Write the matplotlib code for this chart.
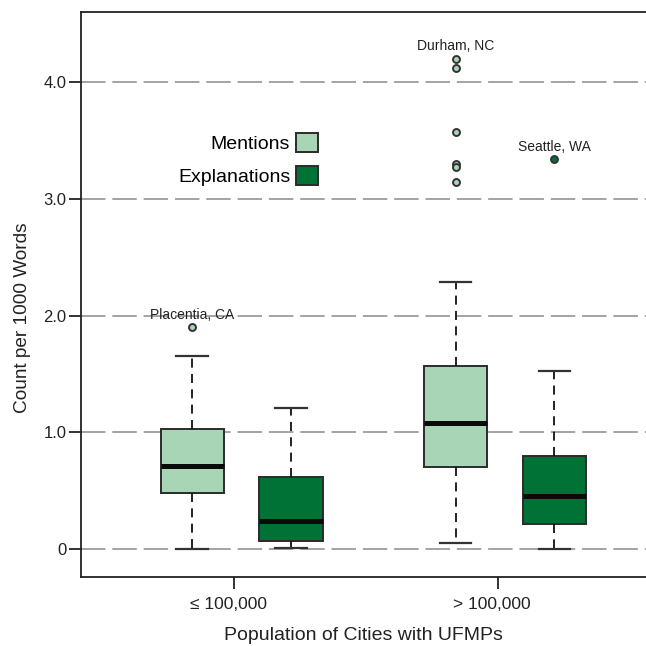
import numpy as np
import matplotlib
matplotlib.use("Agg")
import matplotlib.pyplot as plt
import matplotlib.transforms as mtransforms
from matplotlib.patches import Patch

plt.rcParams['font.family'] = ['Liberation Sans', 'DejaVu Sans']

# ---- data ----
groups = ["\u2264 100,000", "> 100,000"]
series = ["Mentions", "Explanations"]
colors = ["#a8d5b5", "#007236"]

# per series: one value per group
q1 = {"Mentions": [0.48, 0.70], "Explanations": [0.065, 0.216]}
med = {"Mentions": [0.71, 1.077], "Explanations": [0.24, 0.453]}
q3 = {"Mentions": [1.03, 1.567], "Explanations": [0.62, 0.797]}
whislo = {"Mentions": [0.0, 0.054], "Explanations": [0.01, 0.0]}
whishi = {"Mentions": [1.655, 2.285], "Explanations": [1.205, 1.527]}
fliers = {"Mentions": [[1.90], [4.20, 4.12, 3.575, 3.30, 3.27, 3.14]],
          "Explanations": [[], [3.34]]}

# labelled outliers: (series, group index, value, label)
labels = [("Mentions", 0, 1.90, "Placentia, CA"),
          ("Mentions", 1, 4.20, "Durham, NC"),
          ("Explanations", 1, 3.34, "Seattle, WA")]

yticks = [0, 1.0, 2.0, 3.0, 4.0]
ytick_labels = ["0", "1.0", "2.0", "3.0", "4.0"]

# ---- plot ----
W = 646
fig = plt.figure(figsize=(6.46, 6.46), dpi=100)
ax = fig.add_axes([81 / W, 69 / W, 1 - 81 / W, (577 - 12) / W])

offsets = [-0.16, 0.215]   # SPSS style clustering, not centred on tick
width = 0.24
edge = "#2b2b2b"

for k, s in enumerate(series):
    pos = np.arange(1, len(groups) + 1) + offsets[k]
    stats = []
    for i in range(len(groups)):
        stats.append(dict(med=med[s][i], q1=q1[s][i], q3=q3[s][i],
                          whislo=whislo[s][i], whishi=whishi[s][i],
                          fliers=fliers[s][i]))
    ax.bxp(stats, positions=pos, widths=width, patch_artist=True,
           showfliers=True, manage_ticks=False,
           boxprops=dict(facecolor=colors[k], edgecolor=edge, linewidth=1.4),
           medianprops=dict(color="#0a0a0a", linewidth=3.6, solid_capstyle="butt"),
           whiskerprops=dict(color="#111111", linewidth=1.3, linestyle=(0, (5, 3.5))),
           capprops=dict(color="#333333", linewidth=1.6),
           capwidths=width * 0.5,
           flierprops=dict(marker="o", markersize=5, markerfacecolor=colors[k],
                           markeredgecolor="#333333", markeredgewidth=1.4),
           zorder=3)

for s, gi, val, txt in labels:
    k = series.index(s)
    x = gi + 1 + offsets[k]
    ax.annotate(txt, (x, val), xytext=(0, 4), textcoords="offset points",
                ha="center", va="bottom", fontsize=10, color="#222222")

ax.set_xlim(0.418, 2.563)
ax.set_ylim(-0.24, 4.6)
ax.set_xticks([1, 2])
ax.set_xticklabels(groups, fontsize=12.5)
ax.set_yticks(yticks)
ax.set_yticklabels(ytick_labels, fontsize=12)
ax.tick_params(axis="x", length=8.6, width=1.3, pad=5.5, colors="#222222")
ax.tick_params(axis="y", length=8.6, width=1.3, pad=2, colors="#222222")

# x tick labels sit a little left of their ticks in the original
shift = mtransforms.ScaledTranslation(-6 / 100, 0, fig.dpi_scale_trans)
for lab in ax.get_xticklabels():
    lab.set_transform(lab.get_transform() + shift)

for y in yticks:
    ax.axhline(y, color="#8a8a8a", linewidth=1.1, linestyle=(0, (16, 4.5)), zorder=1)

ax.spines["right"].set_visible(False)
for sp in ["left", "bottom", "top"]:
    ax.spines[sp].set_linewidth(1.3)
    ax.spines[sp].set_color("#222222")

ax.set_xlabel("Population of Cities with UFMPs", fontsize=14, labelpad=11, color="#222222")
ax.set_ylabel("Count per 1000 Words", fontsize=13.7, labelpad=11, color="#222222")
ax.yaxis.set_label_coords(-0.089, 0.458)

handles = [Patch(facecolor=colors[k], edgecolor=edge, linewidth=1.4, label=s)
           for k, s in enumerate(series)]
ax.legend(handles=handles, loc="upper right",
          bbox_to_anchor=(318 / W, (W - 133) / W), bbox_transform=fig.transFigure,
          frameon=False, markerfirst=False, fontsize=14,
          handlelength=1.13, handleheight=1.13, handletextpad=0.3,
          labelspacing=0.65, borderaxespad=0, borderpad=0, alignment="right")

fig.savefig("out.png", dpi=100)
